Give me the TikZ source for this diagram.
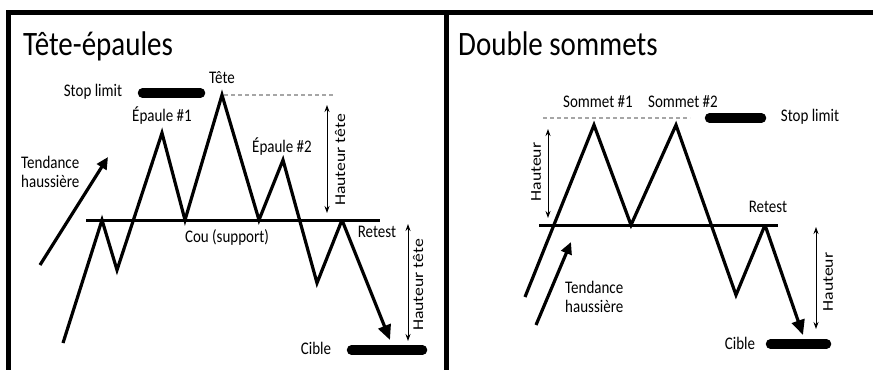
\documentclass[tikz,border=0pt]{standalone}
\usepackage{fontspec}
\setmainfont{Carlito}
\usetikzlibrary{arrows.meta}
\begin{document}
\begin{tikzpicture}[x=1pt,y=-1pt,
  frame/.style={line width=5pt, line join=miter},
  price/.style={line width=3.2pt, line join=miter},
  neck/.style={line width=3pt},
  bar/.style={line width=9.5pt, line cap=round},
  dashline/.style={gray!70, line width=1.5pt, dash pattern=on 4pt off 3pt},
  meas/.style={line width=0.9pt, {Stealth[length=7pt,width=5pt]}-{Stealth[length=7pt,width=5pt]}},
  trend/.style={line width=3.2pt, -{Triangle[length=12pt,width=11pt]}},
  lbl/.style={font=\fontsize{15}{16.5}\selectfont, inner sep=0pt, transform shape, yscale=1.18},
  vlbl/.style={lbl, rotate=90},
  ttl/.style={font=\fontsize{29}{34}\selectfont, anchor=base west, inner sep=0pt, transform shape, yscale=1.18}
]
\useasboundingbox (0,0) rectangle (873,370);
% frame
\draw[frame] (873,12.5) -- (8.5,12.5) -- (8.5,370);
\draw[frame] (446,12.5) -- (446,370);

% ---------- left panel ----------
\node[ttl] (t1) at (23,55) {Tête-épaules};
\coordinate (a0) at (63,343);
\coordinate (a1) at (102,220);
\coordinate (a2) at (117,270);
\coordinate (a3) at (162,133);
\coordinate (a4) at (185,220);
\coordinate (a5) at (222,95);
\coordinate (a6) at (259,220);
\coordinate (a7) at (283,160);
\coordinate (a8) at (317,283);
\coordinate (a9) at (342,220);
\coordinate (a10) at (390,340);
\coordinate (nl1) at (86,220);
\coordinate (nl2) at (380,220);
\draw[neck] (nl1) -- (nl2);
\draw[price] (a0) -- (a1) -- (a2) -- (a3) -- (a4) -- (a5) -- (a6) -- (a7) -- (a8) -- (a9);
\draw[line width=3.2pt, -{Triangle[length=15pt,width=13pt]}] (a9) -- (a10);

\coordinate (sl1) at (142.5,93);
\coordinate (sl2) at (200.5,93);
\draw[bar] (sl1) -- (sl2);
\coordinate (d1) at (224,95);
\coordinate (d2) at (333,95);
\draw[dashline] (d1) -- (d2);
\coordinate (cb1) at (351.5,350);
\coordinate (cb2) at (422.5,350);
\draw[bar] (cb1) -- (cb2);

\coordinate (m1a) at (327,105);
\coordinate (m1b) at (327,213);
\draw[meas] (m1a) -- (m1b);
\coordinate (m2a) at (408,224);
\coordinate (m2b) at (408,341);
\draw[meas] (m2a) -- (m2b);

\coordinate (tr1a) at (40,265);
\coordinate (tr1b) at (108,157);
\draw[trend] (tr1a) -- (tr1b);

\node[lbl] (stop1) at (93,92) {Stop limit};
\node[lbl] (tete) at (222,78) {Tête};
\node[lbl] (ep1) at (162,116) {Épaule \#1};
\node[lbl] (ep2) at (282,147) {Épaule \#2};
\node[lbl, align=left, anchor=west] (tend1) at (21,172) {Tendance\\haussière};
\node[lbl] (cou) at (227,237) {Cou (support)};
\node[lbl] (ret1) at (377,232) {Retest};
\node[vlbl] (h1) at (340,160) {Hauteur tête};
\node[vlbl] (h2) at (418,285) {Hauteur tête};
\node[lbl] (cible1) at (316,348) {Cible};

% ---------- right panel ----------
\node[ttl] (t2) at (458,55) {Double sommets};
\coordinate (b0) at (525,297);
\coordinate (b1) at (594,125);
\coordinate (b2) at (631,225);
\coordinate (b3) at (676,125);
\coordinate (b4) at (736,295);
\coordinate (b5) at (765,225);
\coordinate (b6) at (803,335);
\coordinate (nr1) at (539,225);
\coordinate (nr2) at (778,225);
\draw[neck] (nr1) -- (nr2);
\draw[price] (b0) -- (b1) -- (b2) -- (b3) -- (b4) -- (b5);
\draw[line width=3.2pt, -{Triangle[length=15pt,width=13pt]}] (b5) -- (b6);

\coordinate (d3) at (543,118);
\coordinate (d4) at (690,118);
\draw[dashline] (d3) -- (d4);
\coordinate (sr1) at (709.5,118);
\coordinate (sr2) at (761.5,118);
\draw[bar] (sr1) -- (sr2);
\coordinate (cr1) at (770.5,344);
\coordinate (cr2) at (826.5,344);
\draw[bar] (cr1) -- (cr2);

\coordinate (m3a) at (548,129);
\coordinate (m3b) at (548,218);
\draw[meas] (m3a) -- (m3b);
\coordinate (m4a) at (816,227);
\coordinate (m4b) at (816,329);
\draw[meas] (m4a) -- (m4b);

\coordinate (tr2a) at (536,325);
\coordinate (tr2b) at (571,242);
\draw[trend] (tr2a) -- (tr2b);

\node[lbl] (s1) at (598,102) {Sommet \#1};
\node[lbl] (s2) at (683,102) {Sommet \#2};
\node[lbl] (stop2) at (810,117) {Stop limit};
\node[vlbl] (h3) at (536,172) {Hauteur};
\node[lbl, align=left, anchor=west] (tend2) at (565,297) {Tendance\\haussière};
\node[lbl] (ret2) at (768,207) {Retest};
\node[vlbl] (h4) at (828,282) {Hauteur};
\node[lbl] (cible2) at (740,343) {Cible};
\end{tikzpicture}
\end{document}
